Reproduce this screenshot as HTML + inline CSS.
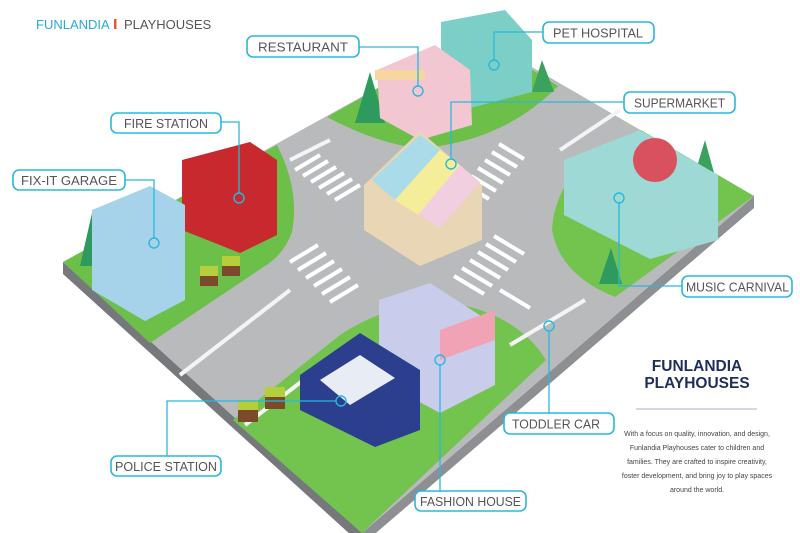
<!DOCTYPE html>
<html><head><meta charset="utf-8"><style>
html,body{margin:0;padding:0;background:#fff;}
svg{display:block;font-family:"Liberation Sans",sans-serif;}
.lb rect{fill:#fff;stroke:#29b8dc;stroke-width:1.6;}
.lb text{fill:#555;font-size:12.5px;}
.cn{fill:none;stroke:#29b8dc;stroke-width:1.3;}
.ci{fill:none;stroke:#29b8dc;stroke-width:1.4;}
.zw{stroke:#fff;stroke-width:4;}
</style></head><body>
<svg width="800" height="533" viewBox="0 0 800 533" xmlns="http://www.w3.org/2000/svg">
<polygon points="63,262 63,274 362,545 362,533" fill="#76787b"/>
<polygon points="362,533 362,545 754,208 754,196" fill="#8d8f92"/>
<polygon points="63,262 475,34 754,196 362,533" fill="#b9babc"/>
<path d="M63,262 L277,145 Q300,190 292,232 Q285,252 268,264 L150,343 Z" fill="#6cc04a"/>
<path d="M327,117 L475,34 L558,86 Q520,125 467,140 Q430,150 410,147 Q370,140 327,117 Z" fill="#6cc04a"/>
<path d="M641,130 L754,196 L615,297 Q560,275 552,230 Q555,180 600,152 Z" fill="#72c44e"/>
<path d="M233,420 L340,335 Q400,296 462,305 Q520,318 546,360 L362,533 Z" fill="#72c44e"/>
<g stroke="#f4f4f4" stroke-width="4" fill="none">
<line x1="180" y1="375" x2="290" y2="290"/>
<line x1="245" y1="425" x2="310" y2="375"/>
<line x1="560" y1="150" x2="620" y2="110"/>
<line x1="330" y1="140" x2="290" y2="160"/>
<line x1="585" y1="300" x2="510" y2="345"/>
</g>
<g class="zw">
<line x1="295" y1="170" x2="320" y2="155"/><line x1="303" y1="176" x2="328" y2="161"/><line x1="311" y1="182" x2="336" y2="167"/><line x1="319" y1="188" x2="344" y2="173"/><line x1="327" y1="194" x2="352" y2="179"/><line x1="335" y1="200" x2="360" y2="185"/>
<line x1="290" y1="262" x2="318" y2="245"/><line x1="298" y1="270" x2="326" y2="253"/><line x1="306" y1="278" x2="334" y2="261"/><line x1="314" y1="286" x2="342" y2="269"/><line x1="322" y1="294" x2="350" y2="277"/><line x1="330" y1="302" x2="358" y2="285"/>
<line x1="485" y1="160" x2="510" y2="175"/><line x1="492" y1="152" x2="517" y2="167"/><line x1="499" y1="144" x2="524" y2="159"/><line x1="478" y1="168" x2="503" y2="183"/><line x1="471" y1="176" x2="496" y2="191"/><line x1="464" y1="184" x2="489" y2="199"/>
<line x1="470" y1="260" x2="500" y2="278"/><line x1="478" y1="252" x2="508" y2="270"/><line x1="486" y1="244" x2="516" y2="262"/><line x1="462" y1="268" x2="492" y2="286"/><line x1="454" y1="276" x2="484" y2="294"/><line x1="494" y1="236" x2="524" y2="254"/><line x1="500" y1="290" x2="530" y2="308"/>
</g>
<polygon points="370,72 355,123 385,123" fill="#2f9a5e"/>
<polygon points="542,60 532,92 554,92" fill="#3aa25e"/>
<polygon points="92,213 80,266 106,266" fill="#2f9a5e"/>
<polygon points="705,140 693,180 716,180" fill="#3aa25e"/>
<polygon points="611,248 599,284 622,284" fill="#2f9a5e"/>
<polygon points="441,22 505,10 532,40 532,92 470,108 441,85" fill="#7ccfc6"/>
<rect x="470" y="38" width="60" height="10" fill="#f2a9c0" transform="skewY(-10)"/>
<polygon points="377,70 435,45 470,70 472,125 420,140 380,118" fill="#f3c7d2"/>
<rect x="375" y="70" width="50" height="10" fill="#f7d7a0"/>
<polygon points="364,185 420,131 482,185 482,240 420,266 364,230" fill="#e9d6b5"/>
<polygon points="372,180 420,135 440,150 395,200" fill="#a9dce8"/>
<polygon points="395,200 440,150 460,165 418,215" fill="#f4ee9a"/>
<polygon points="418,215 460,165 480,182 440,228" fill="#f1cfe0"/>
<polygon points="182,160 250,142 277,160 277,235 240,253 182,230" fill="#c8292e"/>
<polygon points="92,210 150,186 185,205 185,300 145,321 92,290" fill="#a6d3ea"/>
<polygon points="564,160 640,130 718,175 718,240 650,259 564,215" fill="#9fd9d6"/>
<circle cx="655" cy="160" r="22" fill="#d9505f"/>
<polygon points="379,300 430,283 495,325 495,385 440,413 379,380" fill="#c9cdeb"/>
<polygon points="440,330 495,310 495,340 440,360" fill="#f1a3b6"/>
<polygon points="300,375 360,333 420,370 420,430 375,447 300,410" fill="#2c3f8e"/>
<polygon points="320,380 360,355 395,378 350,405" fill="#e8ecf5"/>
<rect x="200" y="272" width="18" height="14" fill="#7a4a2a"/><rect x="222" y="262" width="18" height="14" fill="#7a4a2a"/>
<rect x="200" y="266" width="18" height="10" fill="#b5cf3c"/><rect x="222" y="256" width="18" height="10" fill="#b5cf3c"/>
<rect x="238" y="408" width="20" height="14" fill="#7a4a2a"/><rect x="265" y="395" width="20" height="14" fill="#7a4a2a"/>
<rect x="238" y="400" width="20" height="10" fill="#b5cf3c"/><rect x="265" y="387" width="20" height="10" fill="#b5cf3c"/>
<polyline class="cn" points="359,47 418,47 418,86"/><circle class="ci" cx="418" cy="91" r="5"/>
<polyline class="cn" points="543,32 494,32 494,60"/><circle class="ci" cx="494" cy="65" r="5"/>
<polyline class="cn" points="624,102 451,102 451,159"/><circle class="ci" cx="451" cy="164" r="5"/>
<polyline class="cn" points="221,122 239,122 239,193"/><circle class="ci" cx="239" cy="198" r="5"/>
<polyline class="cn" points="125,180 154,180 154,238"/><circle class="ci" cx="154" cy="243" r="5"/>
<polyline class="cn" points="682,286 619,286 619,203"/><circle class="ci" cx="619" cy="198" r="5"/>
<polyline class="cn" points="549,413 549,331"/><circle class="ci" cx="549" cy="326" r="5"/>
<polyline class="cn" points="167,456 167,401 336,401"/><circle class="ci" cx="341" cy="401" r="5"/>
<polyline class="cn" points="440,491 440,365"/><circle class="ci" cx="440" cy="360" r="5"/>
<g class="lb"><rect x="247" y="36" width="112" height="21" rx="6"/><text x="258" y="51.5" textLength="90" lengthAdjust="spacingAndGlyphs">RESTAURANT</text></g>
<g class="lb"><rect x="543" y="22" width="111" height="21" rx="6"/><text x="553" y="37.5" textLength="90" lengthAdjust="spacingAndGlyphs">PET HOSPITAL</text></g>
<g class="lb"><rect x="624" y="92" width="111" height="21" rx="6"/><text x="634" y="107.5" textLength="91" lengthAdjust="spacingAndGlyphs">SUPERMARKET</text></g>
<g class="lb"><rect x="111" y="113" width="110" height="20" rx="6"/><text x="124" y="128" textLength="84" lengthAdjust="spacingAndGlyphs">FIRE STATION</text></g>
<g class="lb"><rect x="13" y="170" width="112" height="20" rx="6"/><text x="21" y="185" textLength="96" lengthAdjust="spacingAndGlyphs">FIX-IT GARAGE</text></g>
<g class="lb"><rect x="682" y="276" width="110" height="21" rx="6"/><text x="686" y="291.5" textLength="103" lengthAdjust="spacingAndGlyphs">MUSIC CARNIVAL</text></g>
<g class="lb"><rect x="504" y="413" width="110" height="21" rx="6"/><text x="512" y="428.5" textLength="88" lengthAdjust="spacingAndGlyphs">TODDLER CAR</text></g>
<g class="lb"><rect x="111" y="456" width="110" height="20" rx="6"/><text x="115" y="471" textLength="102" lengthAdjust="spacingAndGlyphs">POLICE STATION</text></g>
<g class="lb"><rect x="415" y="491" width="111" height="20" rx="6"/><text x="420" y="506" textLength="101" lengthAdjust="spacingAndGlyphs">FASHION HOUSE</text></g>
<text x="36" y="29" font-size="13" fill="#29a9d8">FUNLANDIA</text>
<rect x="114" y="19" width="2.5" height="10" fill="#e2583a"/>
<text x="124" y="29" font-size="13" fill="#555">PLAYHOUSES</text>
<text x="697" y="371" font-size="15.5" font-weight="bold" fill="#1f2f5c" text-anchor="middle">FUNLANDIA</text>
<text x="697" y="388" font-size="15.5" font-weight="bold" fill="#1f2f5c" text-anchor="middle">PLAYHOUSES</text>
<line x1="636" y1="409" x2="757" y2="409" stroke="#a9b0c8" stroke-width="1"/>
<g font-size="7" fill="#444" text-anchor="middle">
<text x="697" y="436">With a focus on quality, innovation, and design,</text>
<text x="697" y="450">Funlandia Playhouses cater to children and</text>
<text x="697" y="464">families. They are crafted to inspire creativity,</text>
<text x="697" y="478">foster development, and bring joy to play spaces</text>
<text x="697" y="492">around the world.</text>
</g>
</svg>
</body></html>
